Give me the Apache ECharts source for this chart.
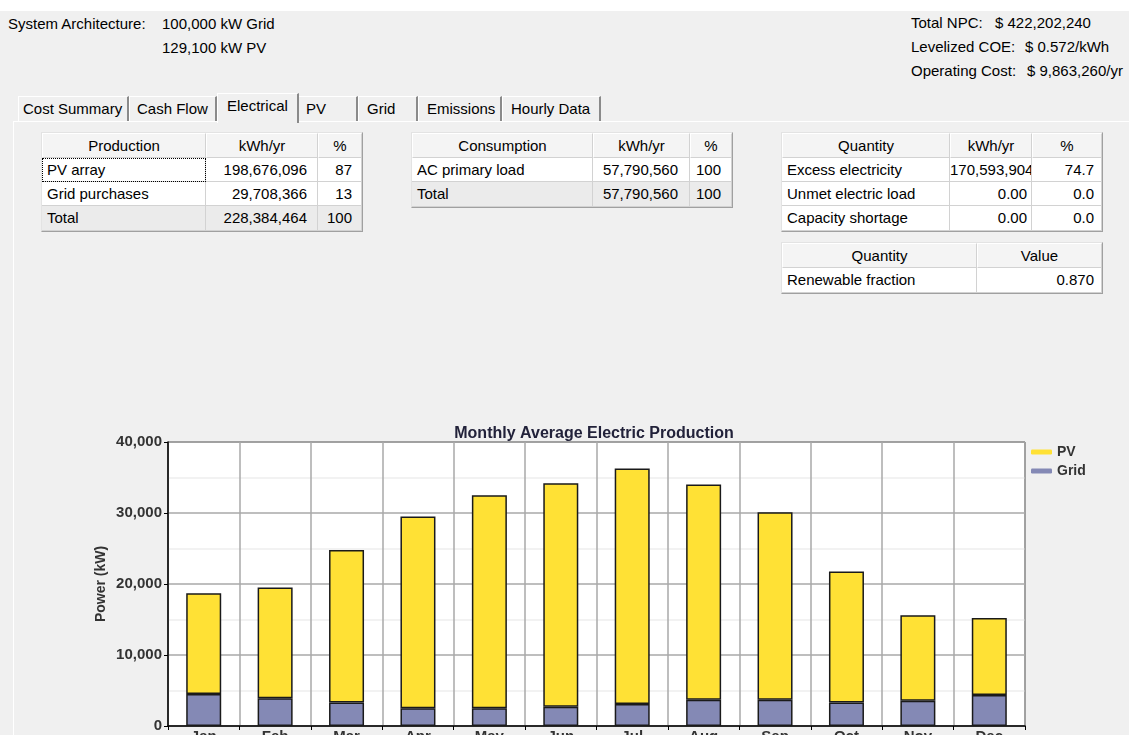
<!DOCTYPE html>
<html><head><meta charset="utf-8">
<script src="https://cdn.jsdelivr.net/npm/echarts@6/dist/echarts.min.js"></script>
<style>
html,body{margin:0;padding:0;width:1129px;height:735px;overflow:hidden;background:#f0f0f0;font-family:"Liberation Sans",Arial,sans-serif;font-size:15px;color:#000;}
.t{position:absolute;white-space:pre;line-height:17px;}
.cell{position:absolute;box-sizing:border-box;white-space:pre;overflow:hidden;border-right:1px solid #d2d2d2;border-bottom:1px solid #d2d2d2;}
#chart{position:absolute;left:0;top:400px;width:1129px;height:335px;}
</style></head>
<body>
<div style="position:absolute;left:0;top:0;width:1129px;height:11px;background:#fff"></div>
<div id="ui"></div>
<div id="chart"></div>
<script>
// ---- data ----
const months = ['Jan','Feb','Mar','Apr','May','Jun','Jul','Aug','Sep','Oct','Nov','Dec'];
const gridPower = [4500, 3900, 3300, 2500, 2500, 2700, 3100, 3700, 3700, 3300, 3550, 4350];
const pvPower = [14200, 15600, 21500, 27000, 30000, 31500, 33150, 30300, 26400, 18450, 12050, 10850];
const seriesNames = ['PV', 'Grid'];
const chartTitle = 'Monthly Average Electric Production';
const yAxisName = 'Power (kW)';

const archLabel = 'System Architecture:';
const archLines = ['100,000 kW Grid', '129,100 kW PV'];
const summaryLabels = ['Total NPC:', 'Levelized COE:', 'Operating Cost:'];
const summaryValues = ['$ 422,202,240', '$ 0.572/kWh', '$ 9,863,260/yr'];
const tabNames = ['Cost Summary', 'Cash Flow', 'Electrical', 'PV', 'Grid', 'Emissions', 'Hourly Data'];

const productionRows = [['Production', 'kWh/yr', '%'], ['PV array', '198,676,096', '87'], ['Grid purchases', '29,708,366', '13'], ['Total', '228,384,464', '100']];
const consumptionRows = [['Consumption', 'kWh/yr', '%'], ['AC primary load', '57,790,560', '100'], ['Total', '57,790,560', '100']];
const quantityRows = [['Quantity', 'kWh/yr', '%'], ['Excess electricity', '170,593,904', '74.7'], ['Unmet electric load', '0.00', '0.0'], ['Capacity shortage', '0.00', '0.0']];
const renewableRows = [['Quantity', 'Value'], ['Renewable fraction', '0.870']];

// ---- UI layout ----
const ui = document.getElementById('ui');
function txt(s, x, y, extra) {
  const d = document.createElement('div');
  d.className = 't';
  d.style.left = x + 'px'; d.style.top = y + 'px';
  if (extra) Object.assign(d.style, extra);
  d.textContent = s;
  ui.appendChild(d);
  return d;
}
function box(x, y, w, h, style) {
  const d = document.createElement('div');
  d.style.position = 'absolute';
  d.style.left = x + 'px'; d.style.top = y + 'px';
  d.style.width = w + 'px'; d.style.height = h + 'px';
  d.style.boxSizing = 'border-box';
  Object.assign(d.style, style || {});
  ui.appendChild(d);
  return d;
}

txt(archLabel, 8, 15);
txt(archLines[0], 162, 15);
txt(archLines[1], 162, 39);
const sumValX = [995, 1025, 1027];
summaryLabels.forEach((l, i) => {
  txt(l, 911, 14 + i * 24);
  txt(summaryValues[i], sumValX[i], 14 + i * 24);
});

// panel border
box(13, 121, 1116, 1, {background: '#fff'});
box(13, 121, 1, 614, {background: '#fff'});

// tabs
const tabEdges = [18, 129, 217, 299, 358, 418, 502, 601];
const tabTextX = [23, 137, 227, 306, 367, 427, 511];
const selected = 2;
tabNames.forEach((n, i) => {
  if (i === selected) return;
  box(tabEdges[i], 96, tabEdges[i + 1] - tabEdges[i], 25, {borderTop: '1px solid #fff', borderLeft: i === selected + 1 ? 'none' : '1px solid #fff', borderRight: '2px solid #8a8a8a', background: '#f0f0f0'});
  txt(n, tabTextX[i], 100);
});
box(tabEdges[selected], 93, tabEdges[selected + 1] - tabEdges[selected], 30, {borderTop: '1px solid #fff', borderLeft: '1px solid #fff', borderRight: '2px solid #8a8a8a', background: '#f0f0f0'});
txt(tabNames[selected], tabTextX[selected], 97);

// tables
function table(rows, x, y, cols, heights, pads, focusCell) {
  const totalW = cols.reduce((a, b) => a + b, 0);
  const totalH = heights.reduce((a, b) => a + b, 0);
  box(x - 1, y - 1, totalW + 2, totalH + 2, {borderTop: '1px solid #e3e3e3', borderLeft: '1px solid #e3e3e3', borderRight: '1px solid #a0a0a0', borderBottom: '1px solid #a0a0a0'});
  let cy = y;
  rows.forEach((r, ri) => {
    let cx = x;
    const isHeader = ri === 0;
    const isTotal = r[0] === 'Total';
    r.forEach((v, ci) => {
      const d = document.createElement('div');
      d.className = 'cell';
      d.style.left = cx + 'px'; d.style.top = cy + 'px';
      d.style.width = cols[ci] + 'px'; d.style.height = heights[ri] + 'px';
      d.style.lineHeight = (heights[ri] - 1) + 'px';
      d.style.background = isHeader ? '#f4f4f4' : (isTotal ? '#ebebeb' : '#fff');
      if (isHeader) { d.style.textAlign = 'center'; d.style.borderTop = '1px solid #fff'; d.style.borderLeft = '1px solid #fff'; }
      else if (ci === 0) { d.style.paddingLeft = '5px'; }
      else { d.style.textAlign = 'right'; d.style.paddingRight = pads[ci] + 'px'; }
      if (focusCell && focusCell[0] === ri && focusCell[1] === ci) { d.style.outline = '1px dotted #000'; d.style.outlineOffset = '-1px'; }
      d.textContent = v;
      ui.appendChild(d);
      cx += cols[ci];
    });
    cy += heights[ri];
  });
}
table(productionRows, 42, 133, [164, 112, 44], [25, 24, 24, 25], [0, 10, 9], [1, 0]);
table(consumptionRows, 412, 133, [181, 97, 42], [25, 24, 25], [0, 11, 10]);
table(quantityRows, 782, 133, [168, 82, 70], [25, 24, 24, 25], [0, 4, 7]);
table(renewableRows, 782, 243, [195, 125], [25, 25], [0, 7]);

// ---- chart ----
const chart = echarts.init(document.getElementById('chart'), null, {renderer: 'canvas'});
const txtCol = '#333';
chart.setOption({
  backgroundColor: 'transparent',
  animation: false,
  title: {
    text: chartTitle, left: 594, top: 26, padding: 0, textAlign: 'center',
    textStyle: {fontFamily: 'Liberation Sans', fontSize: 16, fontWeight: 'bold', color: '#22223a'}
  },
  legend: {
    data: seriesNames, orient: 'vertical', left: 1031, top: 45, padding: 0,
    itemWidth: 21, itemHeight: 5, itemGap: 5, icon: 'roundRect',
    itemStyle: {borderWidth: 0},
    textStyle: {fontFamily: 'Liberation Sans', fontSize: 14, fontWeight: 'bold', color: txtCol}
  },
  grid: {
    left: 168, top: 42, width: 857, height: 284, show: true,
    backgroundColor: '#fff', borderColor: '#222', borderWidth: 1,
    containLabel: false, outerBoundsMode: 'none'
  },
  xAxis: {
    type: 'category', data: months, boundaryGap: true,
    axisLine: {lineStyle: {color: '#000', width: 1.5}},
    axisTick: {show: true, length: 4, lineStyle: {color: '#000'}},
    axisLabel: {margin: 3, fontFamily: 'Liberation Sans', fontSize: 15, fontWeight: 'bold', color: txtCol},
    splitLine: {show: true, lineStyle: {color: '#a8a8a8', width: 1.5}}
  },
  yAxis: {
    type: 'value', min: 0, max: 40000, interval: 10000,
    name: yAxisName, nameLocation: 'middle', nameRotate: 90, nameGap: 60, nameMoveOverlap: false,
    nameTextStyle: {fontFamily: 'Liberation Sans', fontSize: 14, fontWeight: 'bold', color: txtCol},
    axisLine: {show: true, lineStyle: {color: '#000', width: 1.5}},
    axisTick: {show: true, length: 4, lineStyle: {color: '#000'}},
    axisLabel: {margin: 6, fontFamily: 'Liberation Sans', fontSize: 15, fontWeight: 'bold', color: txtCol,
      formatter: v => v.toLocaleString('en-US')},
    splitLine: {show: true, lineStyle: {color: '#a8a8a8', width: 1.5}},
    minorTick: {show: false, splitNumber: 2},
    minorSplitLine: {show: true, lineStyle: {color: '#eeeeee', width: 1.5}}
  },
  series: [
    {name: 'Grid', type: 'bar', stack: 'total', data: gridPower, barWidth: 35,
      itemStyle: {color: '#8489b5', borderColor: '#1a1a1a', borderWidth: 1.5}},
    {name: 'PV', type: 'bar', stack: 'total', data: pvPower, barWidth: 35,
      itemStyle: {color: '#ffe135', borderColor: '#1a1a1a', borderWidth: 1.5}}
  ]
});
</script>
</body></html>
